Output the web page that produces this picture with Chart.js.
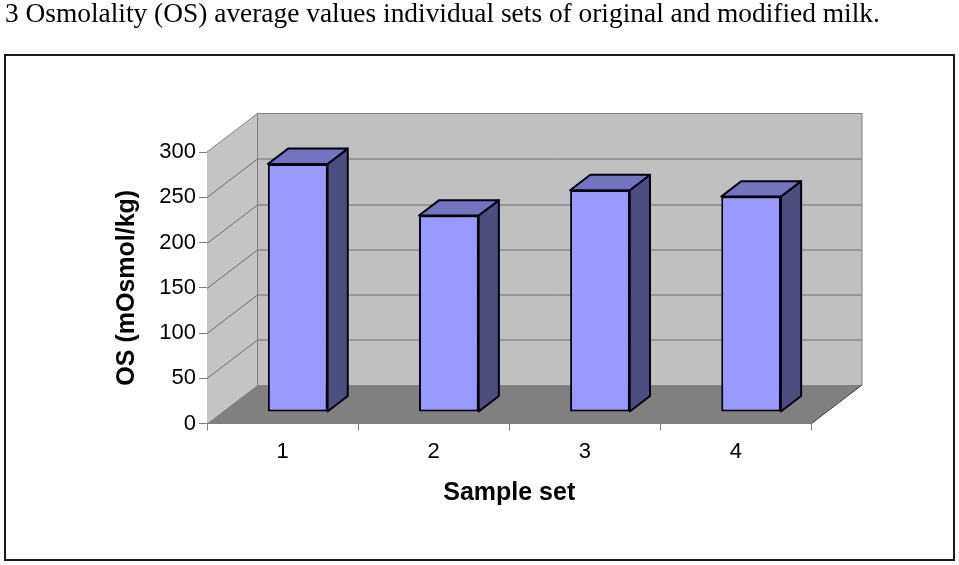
<!DOCTYPE html>
<html>
<head>
<meta charset="utf-8">
<script src="https://cdn.jsdelivr.net/npm/chart.js@4.4.1/dist/chart.umd.min.js"></script>
<style>
  html, body { margin: 0; padding: 0; background: #ffffff; }
  #wrap { width: 959px; height: 565px; }
</style>
</head>
<body>
<div id="wrap"><canvas id="c" width="959" height="565"></canvas></div>
<script>
// ---- data ----
const chartTitle = '3 Osmolality (OS) average values individual sets of original and modified milk.';
const categories = ['1', '2', '3', '4'];
const osValues = [274, 217, 245, 238];
const yMin = 0;
const yMax = 300;
const yStep = 50;
const xTitle = 'Sample set';
const yTitle = 'OS (mOsmol/kg)';

// ---- 3D look (pixels) ----
const DEPTH_X = 50.5;   // wall depth offset to the right
const DEPTH_Y = 38.5;   // wall depth offset upwards
const BAR_FRONT = 0.3;  // bar front plane as fraction of depth
const BAR_BACK = 0.7;   // bar back plane as fraction of depth

const titleSize = 27.4;
const titleLH = 1.06;
const titlePadBottom = 152 - titleSize * titleLH;

const threeD = {
  id: 'threeD',
  beforeDraw(chart) {
    const ctx = chart.ctx;
    ctx.save();
    ctx.strokeStyle = '#1a1a1a';
    ctx.lineWidth = 2;
    ctx.strokeRect(5, 55, 949, 505);
    ctx.restore();
  },
  beforeDatasetsDraw(chart) {
    const ctx = chart.ctx;
    const y = chart.scales.y;
    const x = chart.scales.x;
    const L = x.left, R = x.right;
    const B = y.getPixelForValue(yMin), T = y.getPixelForValue(yMax);
    ctx.save();
    // left wall
    ctx.fillStyle = '#c4c4c4';
    ctx.beginPath();
    ctx.moveTo(L, B); ctx.lineTo(L, T); ctx.lineTo(L + DEPTH_X, T - DEPTH_Y); ctx.lineTo(L + DEPTH_X, B - DEPTH_Y);
    ctx.closePath(); ctx.fill();
    // back wall
    ctx.fillStyle = '#c0c0c0';
    ctx.fillRect(L + DEPTH_X, T - DEPTH_Y, R - L, B - T);
    // floor
    ctx.fillStyle = '#808080';
    ctx.beginPath();
    ctx.moveTo(L, B); ctx.lineTo(R, B); ctx.lineTo(R + DEPTH_X, B - DEPTH_Y); ctx.lineTo(L + DEPTH_X, B - DEPTH_Y);
    ctx.closePath(); ctx.fill();
    // grid lines on walls
    ctx.lineWidth = 1;
    ctx.strokeStyle = '#6e6e6e';
    for (let v = yMin + yStep; v < yMax; v += yStep) {
      const py = Math.round(y.getPixelForValue(v)) + 0.5;
      ctx.beginPath();
      ctx.moveTo(L, py);
      ctx.lineTo(L + DEPTH_X, py - DEPTH_Y);
      ctx.lineTo(R + DEPTH_X, py - DEPTH_Y);
      ctx.stroke();
    }
    // wall outlines
    ctx.strokeStyle = '#808080';
    ctx.beginPath();
    ctx.moveTo(L, T); ctx.lineTo(L + DEPTH_X, T - DEPTH_Y); ctx.lineTo(R + DEPTH_X, T - DEPTH_Y);
    ctx.lineTo(R + DEPTH_X, B - DEPTH_Y);
    ctx.moveTo(L + DEPTH_X, T - DEPTH_Y); ctx.lineTo(L + DEPTH_X, B - DEPTH_Y);
    ctx.stroke();
    ctx.strokeStyle = '#3a3a3a';
    ctx.beginPath();
    ctx.moveTo(R, B); ctx.lineTo(R + DEPTH_X, B - DEPTH_Y);
    ctx.stroke();
    ctx.restore();
  },
  beforeDatasetDraw(chart, args) {
    const ctx = chart.ctx;
    const meta = args.meta;
    const bx = (BAR_BACK - BAR_FRONT) * DEPTH_X;
    const by = (BAR_BACK - BAR_FRONT) * DEPTH_Y;
    ctx.save();
    ctx.translate(BAR_FRONT * DEPTH_X, -BAR_FRONT * DEPTH_Y);
    meta.data.forEach(el => {
      const p = el.getProps(['x', 'y', 'base', 'width'], true);
      const l = p.x - p.width / 2, r = p.x + p.width / 2;
      const t = p.y, b = p.base;
      ctx.lineWidth = 2;
      ctx.lineJoin = 'round';
      ctx.strokeStyle = '#000010';
      // side face
      ctx.fillStyle = '#4d4d80';
      ctx.beginPath();
      ctx.moveTo(r, t); ctx.lineTo(r + bx, t - by); ctx.lineTo(r + bx, b - by); ctx.lineTo(r, b);
      ctx.closePath(); ctx.fill(); ctx.stroke();
      // top face
      ctx.fillStyle = '#7373bf';
      ctx.beginPath();
      ctx.moveTo(l, t); ctx.lineTo(l + bx, t - by); ctx.lineTo(r + bx, t - by); ctx.lineTo(r, t);
      ctx.closePath(); ctx.fill(); ctx.stroke();
    });
  },
  afterDatasetDraw(chart) {
    chart.ctx.restore();
  }
};

new Chart(document.getElementById('c'), {
  type: 'bar',
  data: {
    labels: categories,
    datasets: [{
      label: 'OS',
      data: osValues,
      backgroundColor: '#9999ff',
      borderColor: '#000010',
      borderWidth: 2,
      borderSkipped: false,
      categoryPercentage: 1,
      barPercentage: 0.395
    }]
  },
  options: {
    responsive: false,
    animation: false,
    devicePixelRatio: 1,
    layout: { padding: { left: 5, right: 5, top: 0, bottom: 0 } },
    plugins: {
      legend: { display: false },
      tooltip: { enabled: false },
      title: {
        display: true,
        text: chartTitle,
        align: 'start',
        color: '#000000',
        font: { family: '"Liberation Serif", "Times New Roman", serif', size: titleSize, weight: 'normal', lineHeight: titleLH },
        padding: { top: 0, bottom: titlePadBottom }
      }
    },
    scales: {
      x: {
        afterFit(scale) { scale.height = 565 - 423.5; },
        grid: { display: true, offset: true, drawOnChartArea: false, drawTicks: true, tickLength: 7, color: '#808080' },
        border: { display: true, color: '#808080', width: 1 },
        ticks: { color: '#000000', padding: 8, font: { family: '"Liberation Sans", Arial, sans-serif', size: 22 } },
        title: {
          display: true, text: xTitle, color: '#000000',
          font: { family: '"Liberation Sans", Arial, sans-serif', size: 25, weight: 'bold' },
          padding: { top: 0, bottom: 57 }
        }
      },
      y: {
        min: yMin, max: yMax,
        afterFit(scale) { scale.width = 202; },
        grid: { display: true, drawOnChartArea: false, drawTicks: true, tickLength: 8, color: '#808080' },
        border: { display: true, color: '#808080', width: 1 },
        ticks: { stepSize: yStep, color: '#000000', padding: 3, font: { family: '"Liberation Sans", Arial, sans-serif', size: 22 } },
        title: {
          display: true, text: yTitle, color: '#000000',
          font: { family: '"Liberation Sans", Arial, sans-serif', size: 25, weight: 'bold' },
          padding: { top: 107, bottom: 0 }
        }
      },
      spacer: {
        type: 'linear',
        position: 'right',
        display: true,
        afterFit(scale) { scale.width = 959 - 5 - 811.5; },
        grid: { display: false, drawTicks: false },
        border: { display: false },
        ticks: { display: false }
      }
    }
  },
  plugins: [threeD]
});
</script>
</body>
</html>
